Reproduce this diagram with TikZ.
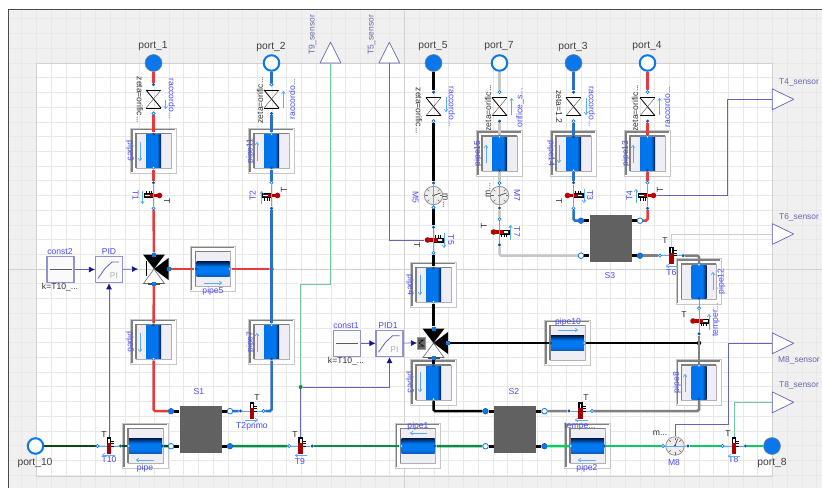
\documentclass[tikz,border=0pt]{standalone}
\usepackage{fontspec}
\setmainfont{Liberation Sans}
\usetikzlibrary{arrows.meta}
\pgfdeclarelayer{front}
\pgfsetlayers{main,front}

\definecolor{portblue}{HTML}{0A78EC}
\definecolor{pindark}{HTML}{0C56A8}
\definecolor{hotred}{HTML}{E83A3C}
\definecolor{coldblue}{HTML}{2A70C6}
\definecolor{darkgreen}{HTML}{0A4A12}
\definecolor{midgreen}{HTML}{0C8A48}
\definecolor{lightgreen}{HTML}{08CC62}
\definecolor{labelblue}{HTML}{4A4AF4}
\definecolor{flowblue}{HTML}{5AACF5}
\definecolor{wirenavy}{HTML}{6464B8}
\definecolor{tipnavy}{HTML}{14148C}
\definecolor{sensegreen}{HTML}{70C8A0}
\definecolor{pipeinner}{HTML}{EEEEF4}

\pgfdeclarehorizontalshading{tubevshade}{100bp}{rgb(0bp)=(0,0.45,0.92); rgb(25bp)=(0,0.45,0.92); rgb(62bp)=(0,0.47,0.94); rgb(75bp)=(0,0.1,0.3); rgb(100bp)=(0,0.1,0.3)}
\pgfdeclareverticalshading{tubehshade}{100bp}{rgb(0bp)=(0.05,0.35,0.7); rgb(25bp)=(0.05,0.35,0.7); rgb(38bp)=(0,0.47,0.94); rgb(58bp)=(0,0.47,0.94); rgb(75bp)=(0,0.1,0.3); rgb(100bp)=(0,0.1,0.3)}

\tikzset{
    gridline/.style={black!9, line width=0.6pt},
    bluelab/.style={text=labelblue, font=\fontsize{8.6}{9}\selectfont, inner sep=0pt},
    darklab/.style={text=black!80, font=\fontsize{8.6}{9}\selectfont, inner sep=0pt},
    portlab/.style={text=black!75, font=\fontsize{10.3}{11}\selectfont, inner sep=0pt},
    senslab/.style={text=black!55!blue!60, font=\fontsize{8.4}{9}\selectfont, inner sep=0pt},
    portfull/.style={circle, minimum size=17pt, inner sep=0pt, fill=portblue, draw=black!50, line width=0.5pt},
    portopen/.style={circle, minimum size=15.5pt, inner sep=0pt, fill=white, draw=portblue, line width=2pt},
    pina/.style={circle, minimum size=3.4pt, inner sep=0pt, fill=pindark},
    pinb/.style={circle, minimum size=3.2pt, inner sep=0pt, fill=white, draw=portblue, line width=0.6pt},
    plugfull/.style={circle, minimum size=5.6pt, inner sep=0pt, fill=portblue, draw=pindark, line width=0.5pt},
    plugopen/.style={circle, minimum size=5.6pt, inner sep=0pt, fill=white, draw=portblue, line width=0.8pt},
    hot/.style={hotred, line width=2.5pt, rounded corners=1.5pt},
    cold/.style={coldblue, line width=2.5pt, rounded corners=1.5pt},
    blackline/.style={black, line width=2.5pt, rounded corners=1.5pt},
    greyline/.style={black!50, line width=2.5pt, rounded corners=1.5pt},
    paleline/.style={black!22, line width=2.5pt, rounded corners=1.5pt},
    greenA/.style={darkgreen, line width=2.5pt},
    greenB/.style={midgreen, line width=2.5pt},
    greenC/.style={lightgreen, line width=2.5pt},
    stub/.style={black, line width=3pt},
    link/.style={flowblue, line width=0.7pt},
    flowline/.style={flowblue, line width=0.7pt, -{To[length=3pt,width=4pt]}},
    wire/.style={wirenavy, line width=0.7pt},
    signal/.style={wirenavy, line width=0.7pt, -{Latex[length=6pt,width=6pt,color=tipnavy]}},
    sensewire/.style={sensegreen, line width=0.8pt},
    palewire/.style={black!20, line width=0.9pt},
    sensetri/.style={draw=wirenavy, fill=white, line width=0.7pt, line join=round},
    tubev/.style={minimum width=15pt, minimum height=33pt, inner sep=0pt, shade, shading=tubevshade},
    tubeh/.style={minimum width=33pt, minimum height=15.5pt, inner sep=0pt, shade, shading=tubehshade},
    blockbox/.style={minimum width=27pt, minimum height=26.5pt, inner sep=0pt, fill=black!2, draw=wirenavy!70, line width=1.1pt},
    hexbox/.style={minimum width=42pt, minimum height=47pt, inner sep=0pt, fill=black!62},
}

% box drawn behind every pipe
\newcommand{\pipebg}[2]{
    \begin{scope}[shift={(#1,#2)}]
        \draw[black!22, fill=white, line width=0.9pt] (-22.6,-22.6) rectangle (22.6,22.6);
        \draw[black!50, line width=1.5pt] (-21.4,21) -- (-21.4,-21.4) -- (21,-21.4);
        \draw[black!30, fill=pipeinner, line width=0.8pt] (-17.5,-17.5) rectangle (17.5,17.5);
        \draw[black!50, line width=1.1pt] (-17.5,17) -- (-17.5,-17.5) -- (17,-17.5);
    \end{scope}
}
\newcommand{\pindot}[3]{\begin{pgfonlayer}{front}\node[#1] (#2) at #3 {};\end{pgfonlayer}}
% pipes: name, x, y, style of first pin, style of second pin
\newcommand{\pipev}[5]{
    \pipebg{#2}{#3}
    \node[tubev] (#1) at (#2,#3) {};
    \pindot{#4}{#1a}{(#1.north)}
    \pindot{#5}{#1b}{(#1.south)}
}
\newcommand{\pipeh}[5]{
    \pipebg{#2}{#3}
    \node[tubeh] (#1) at (#2,#3) {};
    \pindot{#4}{#1a}{(#1.west)}
    \pindot{#5}{#1b}{(#1.east)}
}
% check valve: name, x, y, pin styles
\newcommand{\checkv}[5]{
    \coordinate (#1) at (#2,#3);
    \begin{scope}[shift={(#2,#3)}]
        \draw[black, line width=0.8pt] (-7.5,-9) -- (7.5,-9) (-7.5,9) -- (7.5,9);
        \draw[black, line width=0.8pt] (-7.5,-9) -- (7.5,9);
        \draw[black!70, line width=0.4pt] (7.5,-9) -- (-7.5,9);
    \end{scope}
    \pindot{#4}{#1a}{(#2,#3-14.5)}
    \pindot{#5}{#1b}{(#2,#3+14.5)}
}
% thermometer lying down: name, x, y, bulb side, tick side, pin styles
\newcommand{\thermoh}[7]{
    \node[minimum width=18pt, minimum height=4.5pt, inner sep=0pt] (#1) at (#2,#3) {};
    \begin{scope}[shift={(#2,#3)}, xscale=#4]
        \foreach \tx in {2,4.5,7}
            \draw[black, line width=0.5pt] (\tx,0) -- (\tx,#5*5);
        \draw[black, fill=black!85, line width=0.8pt] (0,-1.9) rectangle (9.5,1.9);
        \fill[white] (4,-0.6) rectangle (8.5,0.6);
        \fill[red!70!black] (-6,-1.8) rectangle (3.5,1.8);
        \fill[red!75!black] (-6,0) circle (2.8);
    \end{scope}
    \pindot{#6}{#1a}{(#2,#3-12.8)}
    \pindot{#7}{#1b}{(#2,#3+12.8)}
    \draw[link] (#1a) -- (#1b);
}
% thermometer standing up: name, x, y, pin styles
\newcommand{\thermov}[5]{
    \node[minimum width=4.5pt, minimum height=18pt, inner sep=0pt] (#1) at (#2,#3) {};
    \pindot{#4}{#1a}{(#2-11.5,#3)}
    \pindot{#5}{#1b}{(#2+11.5,#3)}
    \draw[link] (#1a) -- (#1b);
    \begin{scope}[shift={(#2,#3)}]
        \foreach \ty in {-5,-2.5,0}
            \draw[black, line width=0.5pt] (0,\ty) -- (5,\ty);
        \fill[black] (-2.3,-9) rectangle (2.3,0);
        \fill[white] (-0.9,-7.5) rectangle (0.9,-3);
        \fill[red!65!black] (-2.3,-3) rectangle (2.3,8);
    \end{scope}
}
% flow meter dial: name, x, y, needle angle
\newcommand{\gauge}[4]{
    \node[circle, minimum size=18.5pt, inner sep=0pt, fill=black!7, draw=black!45, line width=0.7pt] (#1) at (#2,#3) {};
    \begin{scope}[shift={(#2,#3)}]
        \foreach \ta in {0,45,90,135,180,225,270,315}
            \draw[black!60, line width=0.4pt] (\ta:6) -- (\ta:8.5);
        \draw[black!70, line width=0.7pt] (0,0) -- (#4:7.5);
        \fill[black!70] (0,0) circle (1.3);
    \end{scope}
}
% three way valve: name, x, y
\newcommand{\threev}[3]{
    \coordinate (#1) at (#2,#3);
    \begin{scope}[shift={(#2,#3)}]
        \fill[black] (0,0) -- (-11,-14.5) -- (11,-14.5) -- cycle;
        \fill[black] (0,0) -- (14.5,-11) -- (14.5,11) -- cycle;
        \draw[black!60, fill=white, line width=0.6pt] (0,0) -- (-10.5,14.5) -- (10.5,14.5) -- cycle;
        \fill[black!70] (-6,13.6) rectangle (6,16);
    \end{scope}
    \node[minimum size=4pt, inner sep=0pt, fill=portblue] (#1t) at (#2,#3-14.5) {};
    \node[minimum size=4pt, inner sep=0pt, fill=portblue] (#1r) at (#2+14.5,#3) {};
    \node[minimum size=4pt, inner sep=0pt, fill=portblue] (#1b) at (#2,#3+15) {};
}
% heat exchanger with its four plugs: name, x, y
\newcommand{\exch}[3]{
    \node[hexbox] (#1) at (#2,#3) {};
    \pindot{plugfull}{#1tl}{(#2-29.5,#3-17.8)}
    \pindot{plugopen}{#1tr}{(#2+29.5,#3-17.8)}
    \pindot{plugopen}{#1bl}{(#2-29.5,#3+17.2)}
    \pindot{plugfull}{#1br}{(#2+29.5,#3+17.2)}
    \draw[stub] (#1tl) -- (#1tl -| #1.west);
    \draw[stub] (#1bl) -- (#1bl -| #1.west);
    \draw[stub] (#1tr) -- (#1tr -| #1.east);
    \draw[stub] (#1br) -- (#1br -| #1.east);
}
% const and PI blocks: name, x, y
\newcommand{\constblock}[3]{
    \node[blockbox] (#1) at (#2,#3) {};
    \draw[black!65, line width=0.7pt] (#2-11,#3) -- (#2+11,#3);
}
\newcommand{\piblock}[3]{
    \node[blockbox] (#1) at (#2,#3) {};
    \draw[wirenavy, line width=0.8pt] (#2-11,#3+9) -- (#2-4,#3-1) -- (#2+3,#3-7.5) -- (#2+10,#3-7.5);
    \node[text=black!30, font=\fontsize{8.5}{9}\selectfont, inner sep=0pt] (#1pi) at (#2+5,#3+6) {PI};
}
% output triangles pointing right and up
\newcommand{\senseright}[3]{
    \coordinate (#1) at (#2,#3);
    \draw[sensetri] (#1) ++(0,-10.4) -- ++(21.4,10.4) -- ++(-21.4,10.4) -- cycle;
}
\newcommand{\senseup}[3]{
    \coordinate (#1) at (#2,#3);
    \draw[sensetri] (#1) ++(-10.4,0) -- ++(10.4,-20.8) -- ++(10.4,20.8) -- cycle;
}

\begin{document}
\begin{tikzpicture}[x=1pt, y=-1pt]
    \useasboundingbox (0,0) rectangle (822,488);

    % sheet and grid
    \fill[white] (0,0) rectangle (822,488);
    \fill[black!6] (8,9) rectangle (822,488);
    \fill[white] (36.5,63) rectangle (772.5,476);
    \foreach \i in {-26,...,28}
        \draw[gridline] (404.5+\i*14.72,9) -- (404.5+\i*14.72,488);
    \foreach \j in {-17,...,14}
        \draw[gridline] (8,269+\j*14.72) -- (822,269+\j*14.72);
    \draw[black!18, line width=0.7pt] (404.5,9) -- (404.5,488);
    \draw[black!18, line width=0.7pt] (8,269) -- (822,269);
    \draw[black!18, line width=0.7pt] (36.5,63) -- (772.5,63) -- (772.5,476) -- (36.5,476) -- cycle;
    \draw[black!70, line width=1pt] (8,488) -- (8,9) -- (822,9);

    % fluid ports
    \node[portfull] (port1) at (153.5,63) {};
    \node[portopen] (port2) at (271.5,63) {};
    \node[portfull] (port5) at (433.5,63) {};
    \node[portopen] (port7) at (499.5,63) {};
    \node[portfull] (port3) at (573.5,63) {};
    \node[portopen] (port4) at (647.5,63) {};
    \node[portopen] (port10) at (35.5,446) {};
    \node[portfull] (port8) at (772,446) {};
    \node[portlab] (lport1) at (153,46.5) {port\_1};
    \node[portlab] (lport2) at (271,46.5) {port\_2};
    \node[portlab] (lport5) at (433,46.5) {port\_5};
    \node[portlab] (lport7) at (499,46.5) {port\_7};
    \node[portlab] (lport3) at (573,46.5) {port\_3};
    \node[portlab] (lport4) at (647,46.5) {port\_4};
    \node[portlab] (lport10) at (35,463) {port\_10};
    \node[portlab] (lport8) at (772,463) {port\_8};

    % check valves
    \checkv{chk1}{153.5}{99}{pina}{pinb}
    \checkv{chk2}{271.5}{99}{pinb}{pina}
    \checkv{chk5}{433.5}{106.7}{pina}{pinb}
    \checkv{chk7}{499.5}{106.7}{pinb}{pina}
    \checkv{chk3}{573.5}{106.7}{pina}{pinb}
    \checkv{chk4}{647.5}{106.7}{pinb}{pina}
    \node[darklab, rotate=-90] (lzeta1) at (140,100) {zeta=orific...};
    \node[darklab, rotate=90] (lzeta2) at (260,100) {zeta=orific...};
    \node[darklab, rotate=-90] (lzeta5) at (419,111) {zeta=orific...};
    \node[darklab, rotate=90] (lzeta7) at (488,108) {zeta=orific...};
    \node[darklab, rotate=-90] (lzeta3) at (559,107) {zeta=1.2};
    \node[darklab, rotate=90] (lzeta4) at (635,108) {zeta=orific...};
    \node[bluelab, rotate=-90] (lrac1) at (172,99) {raccordo...};
    \node[bluelab, rotate=90] (lrac2) at (292,99) {raccordo...};
    \node[bluelab, rotate=-90] (lrac5) at (452,107) {raccordo...};
    \node[bluelab, rotate=90] (lori7) at (520,108) {orifice\_s...};
    \node[bluelab, rotate=-90] (lrac3) at (592,107) {raccordo...};
    \node[bluelab, rotate=90] (lrac4) at (667,107) {raccordo...};
    \draw[flowline] (165.7,100) -- (165.7,109);
    \draw[flowline] (283.5,108) -- (283.5,91);
    \draw[flowline] (446,97) -- (446,112);
    \draw[flowline] (511.7,115) -- (511.7,98);
    \draw[flowline] (586,98) -- (586,115);
    \draw[flowline] (659.5,115) -- (659.5,98);

    % pipes
    \pipev{pipeA}{153.5}{151}{pina}{pinb}
    \pipev{pipeB}{153.5}{342}{pina}{pinb}
    \pipev{pipeC}{271.5}{151}{pinb}{pina}
    \pipev{pipeD}{271.5}{342}{pinb}{pina}
    \pipev{pipeE}{433.5}{285}{pina}{pinb}
    \pipev{pipeF}{433.5}{382.5}{pina}{pinb}
    \pipev{pipeG}{499.5}{153.5}{pinb}{pina}
    \pipev{pipeH}{573.5}{153.5}{pina}{pinb}
    \pipev{pipeI}{647.5}{153.5}{pinb}{pina}
    \pipev{pipeJ}{699}{281.5}{pinb}{pina}
    \pipev{pipeK}{699}{382.5}{pinb}{pina}
    \pipeh{pipeL}{213}{269}{pina}{pinb}
    \pipeh{pipeM}{145.5}{446}{pinb}{pina}
    \pipeh{pipeN}{418}{446}{pinb}{pina}
    \pipeh{pipeO}{587.5}{446}{pinb}{pina}
    \pipeh{pipeP}{567.5}{343}{pina}{pinb}
    \node[bluelab, rotate=-90] (lpipeA) at (130,151) {pipe9};
    \node[bluelab, rotate=-90] (lpipeB) at (130,342) {pipe6};
    \node[bluelab, rotate=90] (lpipeC) at (250.5,151) {pipe11};
    \node[bluelab, rotate=90] (lpipeD) at (250.5,342) {pipe7};
    \node[bluelab, rotate=-90] (lpipeE) at (410,285) {pipe4};
    \node[bluelab, rotate=-90] (lpipeF) at (410,382.5) {pipe3};
    \node[bluelab, rotate=90] (lpipeG) at (478,153.5) {pipe15};
    \node[bluelab, rotate=-90] (lpipeH) at (551,153.5) {pipe14};
    \node[bluelab, rotate=90] (lpipeI) at (626,153.5) {pipe13};
    \node[bluelab, rotate=90] (lpipeJ) at (721.5,281.5) {pipe12};
    \node[bluelab, rotate=90] (lpipeK) at (677,382.5) {pipe8};
    \node[bluelab] (lpipeL) at (213,291.5) {pipe5};
    \node[bluelab] (lpipeM) at (145,468.5) {pipe};
    \node[bluelab] (lpipeN) at (418,426) {pipe1};
    \node[bluelab] (lpipeO) at (587,468.5) {pipe2};
    \node[bluelab] (lpipeP) at (568,322) {pipe10};
    \draw[flowline] (140,142) -- (140,161);
    \draw[flowline] (140,333) -- (140,352);
    \draw[flowline] (257,161) -- (257,142);
    \draw[flowline] (257,352) -- (257,333);
    \draw[flowline] (420,275) -- (420,295);
    \draw[flowline] (420,372) -- (420,392);
    \draw[flowline] (486,163) -- (486,145);
    \draw[flowline] (559,145) -- (559,163);
    \draw[flowline] (633,163) -- (633,145);
    \draw[flowline] (713,290) -- (713,272);
    \draw[flowline] (685,392) -- (685,374);
    \draw[flowline] (204,283) -- (222,283);
    \draw[flowline] (154,460) -- (136,460);
    \draw[flowline] (427,433) -- (410,433);
    \draw[flowline] (596,460) -- (578,460);
    \draw[flowline] (558,330) -- (578,330);

    % temperature sensors
    \thermoh{tempA}{153.5}{195.5}{-1}{-1}{pina}{pinb}
    \thermoh{tempB}{271.5}{195.5}{-1}{1}{pinb}{pina}
    \thermoh{tempC}{573.5}{195.5}{1}{-1}{pina}{pinb}
    \thermoh{tempD}{647.5}{195.5}{-1}{1}{pinb}{pina}
    \thermoh{tempE}{433.5}{240}{1}{-1}{pina}{pinb}
    \thermoh{tempF}{499.5}{232}{1}{1}{pinb}{pina}
    \thermoh{tempG}{699}{321}{1}{1}{pinb}{pina}
    \thermov{tempH}{252}{411}{pina}{pinb}
    \thermov{tempI}{109}{446}{pinb}{pina}
    \thermov{tempJ}{300.7}{446}{pinb}{pina}
    \thermov{tempK}{580.5}{411}{pina}{pinb}
    \thermov{tempL}{671.5}{255.7}{pinb}{pina}
    \thermov{tempM}{734}{446}{pinb}{pina}
    \node[darklab, rotate=-90] (ltA) at (167,201) {T};
    \node[darklab, rotate=90] (ltB) at (284,190) {T};
    \node[darklab, rotate=-90] (ltC) at (559,201) {T};
    \node[darklab, rotate=90] (ltD) at (660,190) {T};
    \node[darklab, rotate=-90] (ltE) at (417,245) {T};
    \node[darklab, rotate=90] (ltF) at (484,226) {T};
    \node[darklab] (ltG) at (684,315) {T};
    \node[darklab] (ltH) at (257,398) {T};
    \node[darklab] (ltI) at (104,435) {T};
    \node[darklab] (ltJ) at (295,435) {T};
    \node[darklab] (ltK) at (586,398) {T};
    \node[darklab] (ltL) at (665,241) {T};
    \node[darklab] (ltM) at (728,434) {T};
    \node[bluelab, rotate=-90] (lnA) at (135.5,195.5) {T1};
    \node[bluelab, rotate=90] (lnB) at (252.5,195.5) {T2};
    \node[bluelab, rotate=-90] (lnC) at (590,195.5) {T3};
    \node[bluelab, rotate=90] (lnD) at (629.5,195.5) {T4};
    \node[bluelab, rotate=-90] (lnE) at (451,240) {T5};
    \node[bluelab, rotate=-90] (lnF) at (517,232) {T7};
    \node[bluelab, rotate=90] (lnG) at (716,320) {temper...};
    \node[bluelab] (lnH) at (252,426.5) {T2primo};
    \node[bluelab] (lnI) at (109,460) {T10};
    \node[bluelab] (lnJ) at (300,462) {T9};
    \node[bluelab] (lnK) at (580,426.5) {tempe...};
    \node[bluelab] (lnL) at (671.5,272.5) {T6};
    \node[bluelab] (lnM) at (733.5,460) {T8};
    \draw[flowline] (142.5,191) -- (142.5,204);
    \draw[flowline] (261.7,204) -- (261.7,191);
    \draw[flowline] (584,189) -- (584,203);
    \draw[flowline] (636,203) -- (636,189);
    \draw[flowline] (444,233) -- (444,248);
    \draw[flowline] (510.5,240) -- (510.5,225);
    \draw[flowline] (709,330) -- (709,314);
    \draw[flowline] (245,420) -- (258,420);
    \draw[flowline] (115,455) -- (102,455);
    \draw[flowline] (307,455.5) -- (295,455.5);
    \draw[flowline] (588,420) -- (575,420);
    \draw[flowline] (678,266) -- (666,266);
    \draw[flowline] (740,456) -- (728,456);

    % mass flow meters
    \gauge{flowA}{433.5}{195.5}{-20}
    \gauge{flowB}{499.5}{195.5}{-20}
    \gauge{flowC}{675}{446}{-70}
    \pindot{pina}{flowAa}{(433.5,183)}
    \pindot{pinb}{flowAb}{(433.5,207.5)}
    \pindot{pinb}{flowBa}{(499.5,183)}
    \pindot{pina}{flowBb}{(499.5,208)}
    \pindot{pinb}{flowCa}{(663,446)}
    \pindot{pina}{flowCb}{(688,446)}
    \node[bluelab, rotate=-90] (lflowA) at (415.5,197) {M5};
    \node[darklab, rotate=-90] (lmA) at (445.5,201) {m...};
    \node[bluelab, rotate=-90] (lflowB) at (517,195) {M7};
    \node[darklab, rotate=90] (lmB) at (488,190) {m...};
    \node[bluelab] (lflowC) at (674,462.5) {M8};
    \node[darklab] (lmC) at (660,433.5) {m...};
    \draw[link] (flowAa) -- (flowAb);
    \draw[link] (flowBa) -- (flowBb);
    \draw[link] (flowCa) -- (flowCb);

    % three way valves
    \threev{valveA}{154}{269}
    \threev{valveB}{433.5}{343}
    \draw[black, line width=0.7pt] (146,261) -- (146,276);
    \coordinate (valveAin) at (138,269);
    \coordinate (valveBin) at (417,343);
    \node[minimum width=8pt, minimum height=12pt, inner sep=0pt, fill=black!60, draw=black!40] (valveBact) at (421,343) {};
    \draw[black, line width=0.5pt] (418.5,340) -- (423.5,340) -- (419,343) -- (423.5,346) -- (418.5,346);

    % heat exchangers
    \exch{exS}{200.5}{429}
    \exch{exT}{515}{429}
    \exch{exU}{610.5}{238.5}
    \node[bluelab] (lexS) at (199,392) {S1};
    \node[bluelab] (lexT) at (514,392) {S2};
    \node[bluelab] (lexU) at (610,276) {S3};

    % control blocks
    \constblock{constA}{60.5}{269.5}
    \piblock{pidA}{109}{269.5}
    \constblock{constB}{347}{343.3}
    \piblock{pidB}{389.5}{343.3}
    \node[bluelab] (lconstA) at (60,252) {const2};
    \node[bluelab] (lpidA) at (109,252) {PID};
    \node[darklab] (lkA) at (60,287.5) {k=T10\_...};
    \node[bluelab] (lconstB) at (346,326) {const1};
    \node[bluelab] (lpidB) at (388,326) {PID1};
    \node[darklab] (lkB) at (346,361.5) {k=T10\_...};

    % output triangles
    \senseup{sensT}{330.5}{63}
    \senseup{sensV}{389.3}{63}
    \senseright{sensD}{772.3}{99.3}
    \senseright{sensL}{772.3}{234}
    \senseright{sensC}{772.3}{343.3}
    \senseright{sensM}{772.3}{402.3}
    \node[senslab, rotate=90] (lsensT) at (312.5,35) {T9\_sensor};
    \node[senslab, rotate=90] (lsensV) at (371.5,35) {T5\_sensor};
    \node[senslab] (lsensD) at (799,82.7) {T4\_sensor};
    \node[senslab] (lsensL) at (799,217) {T6\_sensor};
    \node[senslab] (lsensC) at (799,360.7) {M8\_sensor};
    \node[senslab] (lsensM) at (799,385) {T8\_sensor};

    % signal lines
    \coordinate (bendT) at (300.7,284);
    \coordinate (bendD) at (727.3,195.5);
    \coordinate (bendC) at (728.5,424.3);
    \node[circle, minimum size=4pt, inner sep=0pt, fill=midgreen] (joinT) at (300.7,387) {};
    \draw[signal] (constA) -- (pidA);
    \draw[signal] (pidA) -- (valveAin);
    \draw[signal] (constB) -- (pidB);
    \draw[signal] (pidB) -- (valveBin);
    \draw[signal] (tempI.north) -- (pidA.south);
    \draw[wire] (tempJ.north) -- (joinT);
    \draw[signal] (joinT) -| (pidB.south);
    \draw[sensewire] (joinT) -- (bendT) -| (sensT);
    \draw[wire] (tempE.west) -| (sensV);
    \draw[wire] (tempD.east) -- (bendD) |- (sensD);
    \draw[palewire] (tempL.north) |- (sensL);
    \draw[wire] (flowC.north) |- (bendC) |- (sensC);
    \draw[sensewire] (tempM.north) |- (sensM);

    % loop through port_1 and port_2
    \node[circle, minimum size=4.5pt, inner sep=0pt, fill=hotred] (joinA) at (271.5,269) {};
    \draw[hot] (port1) -- (chk1a);
    \draw[hot] (chk1b) -- (pipeAa);
    \draw[hot] (pipeAb) -- (tempAa);
    \draw[hot] (tempAb) -- (valveAt);
    \draw[hot] (valveAb) -- (pipeBa);
    \draw[hot] (pipeBb) |- (exStl);
    \draw[cold] (port2) -- (chk2a);
    \draw[cold] (chk2b) -- (pipeCa);
    \draw[cold] (pipeCb) -- (tempBa);
    \draw[cold] (tempBb) -- (pipeDa);
    \draw[cold] (pipeDb) |- (tempHb);
    \draw[cold] (exStr) -- (tempHa);
    \draw[hot] (valveAr) -- (pipeLa);
    \draw[hot] (pipeLb) -- (joinA);

    % loop through port_5
    \node[circle, minimum size=4.5pt, inner sep=0pt, fill=black] (joinB) at (699,343) {};
    \draw[blackline] (port5) -- (chk5a);
    \draw[blackline] (chk5b) -- (flowAa);
    \draw[blackline] (flowAb) -- (tempEa);
    \draw[blackline] (tempEb) -- (pipeEa);
    \draw[blackline] (pipeEb) -- (valveBt);
    \draw[blackline] (valveBb) -- (pipeFa);
    \draw[blackline] (pipeFb) |- (exTtl);
    \draw[greyline] (exTtr) -- (tempKa);
    \draw[greyline] (tempKb) -| (pipeKb);
    \draw[greyline] (pipeKa) -- (tempGb);
    \draw[blackline] (valveBr) -- (pipePa);
    \draw[blackline] (pipePb) -- (joinB);
    \draw[link] (tempGa) -- (pipeJb);
    \draw[greyline] (pipeJa) |- (tempLb);
    \draw[greyline] (tempLa) -- (exUbr);

    % loops through port_7, port_3 and port_4
    \draw[paleline] (port7) -- (chk7a);
    \draw[paleline] (chk7b) -- (pipeGa);
    \draw[paleline] (pipeGb) -- (flowBa);
    \draw[paleline] (flowBb) -- (tempFa);
    \draw[paleline] (tempFb) |- (exUbl);
    \draw[cold] (port3) -- (chk3a);
    \draw[cold] (chk3b) -- (pipeHa);
    \draw[cold] (pipeHb) -- (tempCa);
    \draw[cold] (tempCb) |- (exUtl);
    \draw[hot] (port4) -- (chk4a);
    \draw[hot] (chk4b) -- (pipeIa);
    \draw[hot] (pipeIb) -- (tempDa);
    \draw[hot] (tempDb) |- (exUtr);

    % bottom line
    \draw[greenA] (port10) -- (tempIa);
    \draw[greenA] (tempIb) -- (pipeMa);
    \draw[greenA] (pipeMb) -- (exSbl);
    \draw[greenB] (exSbr) -- (tempJa);
    \draw[greenB] (tempJb) -- (pipeNa);
    \draw[greenB] (pipeNb) -- (exTbl);
    \draw[greenC] (exTbr) -- (pipeOa);
    \draw[greenC] (pipeOb) -- (flowCa);
    \draw[greenC] (flowCb) -- (tempMa);
    \draw[greenC] (tempMb) -- (port8);
\end{tikzpicture}
\end{document}
